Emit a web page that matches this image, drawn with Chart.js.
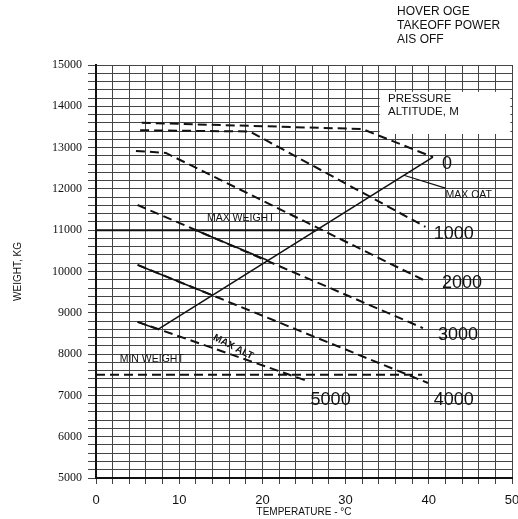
<!DOCTYPE html>
<html>
<head>
<meta charset="utf-8">
<script src="https://cdn.jsdelivr.net/npm/chart.js@4/dist/chart.umd.min.js"></script>
<style>
  html, body { margin: 0; padding: 0; background: #fff; }
  #wrap { width: 518px; height: 519px; }
</style>
</head>
<body>
<div id="wrap"><canvas id="chart" width="518" height="519"></canvas></div>
<script>
// ===== DATA =====
// pressure altitude lines, temperature (°C) / weight (kg)
const altitudes = ['0', '1000', '2000', '3000', '4000', '5000'];
const alt0T    = [5.5, 32, 40.5];
const alt0W    = [13600, 13450, 12770];
const alt1000T = [5.3, 18.5, 39.6];
const alt1000W = [13420, 13390, 11080];
const alt2000T = [4.8, 8.4, 39.3];
const alt2000W = [12920, 12870, 9800];
const alt3000T = [5, 39.3];
const alt3000W = [11610, 8630];
const alt4000T = [5, 39.9];
const alt4000W = [10160, 7300];
const alt5000T = [5, 25.1];
const alt5000W = [8780, 7370];

// limit lines
const maxWeightT = [0, 26.5];
const maxWeightW = [11000, 11000];
const maxOatT    = [7.45, 40.5];
const maxOatW    = [8600, 12770];
const oatLeaderT = [37, 42];
const oatLeaderW = [12330, 12020];
const solid3000T = [12, 20.6];
const solid3000W = [11000, 10270];
const solid4000T = [5, 14.05];
const solid4000W = [10160, 9420];
const solid5000T = [5, 7.45];
const solid5000W = [8780, 8600];
const minWeightT = [0, 39.2];
const minWeightW = [7500, 7500];

// axes
const tempMin = 0, tempMax = 50, tempStep = 2, tempLabelStep = 10;
const weightMin = 5000, weightMax = 15000, weightStep = 200, weightLabelStep = 1000;

// ===== HELPERS =====
const pts = (ts, ws) => ts.map((t, i) => ({ x: t, y: ws[i] }));
const SANS = '"Liberation Sans", Arial, sans-serif';
const SERIF = '"Liberation Serif", "Times New Roman", serif';

const altSeries = [
  [alt0T, alt0W], [alt1000T, alt1000W], [alt2000T, alt2000W],
  [alt3000T, alt3000W], [alt4000T, alt4000W], [alt5000T, alt5000W]
];

const dashedSet = (label, ts, ws) => ({
  label, data: pts(ts, ws), showLine: true, borderColor: '#111', borderWidth: 2,
  borderDash: [9, 5], pointRadius: 0, tension: 0
});
const solidSet = (label, ts, ws, w = 1.6) => ({
  label, data: pts(ts, ws), showLine: true, borderColor: '#111', borderWidth: w,
  pointRadius: 0, tension: 0
});

const datasets = [
  ...altSeries.map((s, i) => dashedSet(altitudes[i] + ' M', s[0], s[1])),
  dashedSet('MIN WEIGHT', minWeightT, minWeightW),
  solidSet('MAX WEIGHT', maxWeightT, maxWeightW, 2),
  solidSet('MAX OAT', maxOatT, maxOatW),
  solidSet('MAX OAT leader', oatLeaderT, oatLeaderW, 1.2),
  solidSet('3000 limit', solid3000T, solid3000W),
  solidSet('4000 limit', solid4000T, solid4000W),
  solidSet('5000 limit', solid5000T, solid5000W)
];

// ===== ANNOTATIONS (text placed in data units) =====
const altLabelAt = [[42.2, 12600], [43.0, 10908], [44.0, 9722], [43.5, 8462], [43.0, 6889], [28.2, 6889]];
const notes = [
  { text: 'MAX OAT', t: 44.8, w: 11852, size: 10.5 },
  { text: 'MAX WEIGHT', t: 17.4, w: 11295, size: 10.5 },
  { text: 'MIN WEIGHT', t: 6.7, w: 7881, size: 10.5 },
  { text: 'MAX ALT', t: 16.5, w: 8172, size: 10, bold: true, rot: 27 }
];

const annotate = {
  id: 'annotate',
  beforeDatasetsDraw(chart) {
    const { ctx, scales: { x, y } } = chart;
    // white legend box over the grid
    ctx.save();
    ctx.fillStyle = '#fff';
    const x0 = x.getPixelForValue(34.1), x1 = x.getPixelForValue(49.8);
    const y0 = y.getPixelForValue(14350), y1 = y.getPixelForValue(13330);
    ctx.fillRect(x0, y0, x1 - x0, y1 - y0);
    ctx.restore();
  },
  afterDatasetsDraw(chart) {
    const { ctx, scales: { x, y } } = chart;
    ctx.save();
    ctx.fillStyle = '#111';
    ctx.textBaseline = 'middle';

    // pressure altitude box text
    ctx.textAlign = 'left';
    ctx.font = '11.5px ' + SANS;
    ctx.fillText('PRESSURE', x.getPixelForValue(35.1), y.getPixelForValue(14177));
    ctx.fillText('ALTITUDE, M', x.getPixelForValue(35.1), y.getPixelForValue(13862));

    // altitude labels
    ctx.textAlign = 'center';
    ctx.font = '18px ' + SANS;
    altitudes.forEach((a, i) => {
      ctx.fillText(a, x.getPixelForValue(altLabelAt[i][0]), y.getPixelForValue(altLabelAt[i][1]));
    });

    // limit notes
    notes.forEach(n => {
      ctx.save();
      ctx.font = (n.bold ? 'bold ' : '') + n.size + 'px ' + SANS;
      ctx.translate(x.getPixelForValue(n.t), y.getPixelForValue(n.w));
      if (n.rot) ctx.rotate(n.rot * Math.PI / 180);
      ctx.fillText(n.text, 0, 0);
      ctx.restore();
    });

    // header
    ctx.textAlign = 'left';
    ctx.font = '12px ' + SANS;
    ['HOVER OGE', 'TAKEOFF POWER', 'AIS OFF'].forEach((s, i) => ctx.fillText(s, 397, 12 + i * 14));
    ctx.restore();
  }
};

// ===== CHART =====
new Chart(document.getElementById('chart'), {
  type: 'scatter',
  data: { datasets },
  plugins: [annotate],
  options: {
    responsive: false,
    animation: false,
    layout: { padding: { left: 0, right: 6, top: 65, bottom: 0 } },
    plugins: { legend: { display: false }, tooltip: { enabled: false } },
    scales: {
      x: {
        type: 'linear', min: tempMin, max: tempMax,
        afterFit(s) { s.height = 41; s.paddingLeft = 0; s.paddingRight = 0; },
        ticks: {
          stepSize: tempStep, autoSkip: false, maxRotation: 0, padding: 9, color: '#111',
          font: { family: SANS, size: 13 },
          callback: v => (v % tempLabelStep === 0 ? v : '')
        },
        grid: { color: '#444', lineWidth: 1, tickLength: 6 },
        border: { color: '#111', width: 2 },
        title: { display: true, text: 'TEMPERATURE - °C', color: '#111', font: { family: SANS, size: 10 }, padding: { top: 0, bottom: 1 } }
      },
      y: {
        type: 'linear', min: weightMin, max: weightMax,
        afterFit(s) { s.width = 96; s.paddingTop = 0; s.paddingBottom = 0; },
        ticks: {
          stepSize: weightStep, autoSkip: false, padding: 6, color: '#111',
          font: { family: SERIF, size: 12 },
          callback: v => (v % weightLabelStep === 0 ? v : '')
        },
        grid: { color: '#444', lineWidth: 1, tickLength: 8 },
        border: { color: '#111', width: 2 },
        title: { display: true, text: 'WEIGHT, KG', color: '#111', font: { family: SANS, size: 10 }, padding: { top: 12, bottom: 0 } }
      }
    }
  }
});
</script>
</body>
</html>
